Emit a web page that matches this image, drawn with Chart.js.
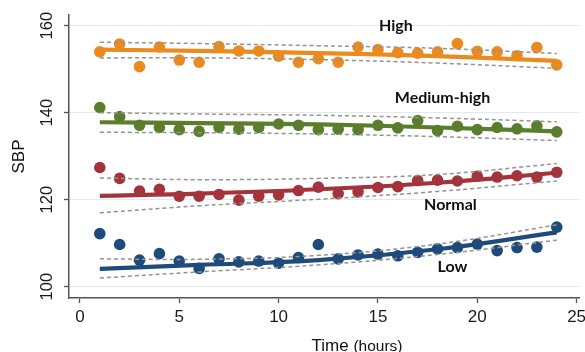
<!DOCTYPE html>
<html><head><meta charset="utf-8">
<script src="https://cdn.jsdelivr.net/npm/chart.js@4"></script>
<style>html,body{margin:0;padding:0;background:#fff;}#wrap{width:585px;height:352px;position:relative;}</style>
</head><body><div id="wrap"><canvas id="c"></canvas></div>
<script>
// ---- data ----
const hours = [1,2,3,4,5,6,7,8,9,10,11,12,13,14,15,16,17,18,19,20,21,22,23,24];
const groupNames = ["High", "Medium-high", "Normal", "Low"];

const high       = [154.0,155.8,150.6,155.1,152.1,151.6,155.2,154.2,154.2,153.0,151.6,152.4,151.6,155.1,154.5,153.8,153.7,154.0,155.9,154.1,154.0,153.1,155.0,151.0];
const mediumHigh = [141.2,139.1,137.1,136.6,136.1,135.7,136.6,136.2,136.6,137.4,137.1,136.1,136.2,136.1,137.1,136.5,138.2,135.9,136.9,136.1,136.6,136.3,137.0,135.6];
const normal     = [127.4,124.9,122.0,122.4,120.8,120.8,121.2,119.9,120.8,121.1,122.1,122.9,121.4,121.8,122.8,123.0,124.4,124.5,124.3,125.4,125.2,125.5,125.2,126.3];
const low        = [112.2,109.7,106.1,107.6,105.9,104.2,106.4,105.7,105.9,105.4,106.7,109.7,106.4,107.3,107.5,107.1,107.9,108.7,109.0,109.8,108.3,109.0,109.1,113.7];

// fitted curves and 95% CI, read at these hours
const fitHours = [1, 6, 12, 18, 24];
const highFit   = [154.5, 154.2, 153.7, 153.0, 151.9];
const highUpper = [156.2, 155.9, 155.4, 154.8, 153.6];
const highLower = [152.6, 152.6, 152.2, 151.4, 150.2];
const mhFit     = [137.8, 137.6, 137.3, 136.6, 135.7];
const mhUpper   = [140.0, 139.7, 139.4, 138.8, 137.9];
const mhLower   = [135.5, 135.4, 135.1, 134.5, 133.6];
const normFit   = [120.9, 121.4, 122.4, 123.9, 126.2];
const normUpper = [125.0, 124.6, 124.9, 125.8, 128.3];
const normLower = [117.0, 118.6, 120.1, 121.9, 124.3];
const lowFit    = [104.1, 105.0, 106.1, 108.6, 112.5];
const lowUpper  = [106.4, 106.3, 107.2, 109.8, 114.2];
const lowLower  = [102.0, 103.4, 105.0, 107.4, 110.7];

const xTicks = [0, 5, 10, 15, 20, 25];
const yTicks = [100, 120, 140, 160];

// ---- styling ----
const colors = ["#EA8A1F", "#5A7E2C", "#A3343C", "#1F4B7C"];
const pts = (xs, ys) => xs.map((x, i) => ({x, y: ys[i]}));

const groups = [
  {obs: high, fit: highFit, up: highUpper, lo: highLower},
  {obs: mediumHigh, fit: mhFit, up: mhUpper, lo: mhLower},
  {obs: normal, fit: normFit, up: normUpper, lo: normLower},
  {obs: low, fit: lowFit, up: lowUpper, lo: lowLower}
];

const datasets = [];
groups.forEach((g, i) => {
  datasets.push({label: groupNames[i], data: pts(hours, g.obs), showLine: false,
    pointRadius: 5.8, pointBackgroundColor: colors[i], pointBorderWidth: 0, order: 3});
  datasets.push({label: groupNames[i] + " fit", data: pts(fitHours, g.fit), showLine: true,
    borderColor: colors[i], borderWidth: 4.2, pointRadius: 0, tension: 0.4, order: 2});
  [g.up, g.lo].forEach(b => datasets.push({label: groupNames[i] + " CI", data: pts(fitHours, b), showLine: true,
    borderColor: "#939393", borderWidth: 1.5, borderDash: [4, 3], pointRadius: 0, tension: 0.4, order: 1}));
});

const labelPos = [
  {x: 15.9, y: 160.0},
  {x: 18.25, y: 143.4},
  {x: 18.65, y: 118.85},
  {x: 18.75, y: 104.6}
];

const overlay = {
  id: "overlay",
  afterDraw(chart) {
    const ctx = chart.ctx, xs = chart.scales.x, ys = chart.scales.y;
    ctx.save();
    ctx.fillStyle = "#111";
    ctx.textAlign = "center";
    ctx.textBaseline = "middle";
    ctx.font = "bold 16px Lato, 'Open Sans', sans-serif";
    groupNames.forEach((n, i) => {
      ctx.fillText(n, xs.getPixelForValue(labelPos[i].x), ys.getPixelForValue(labelPos[i].y));
    });
    // x axis title
    ctx.textBaseline = "alphabetic";
    ctx.textAlign = "left";
    const f1 = "17px 'Liberation Sans', Arial, sans-serif";
    const f2 = "15.5px 'Liberation Sans', Arial, sans-serif";
    ctx.font = f1; const w1 = ctx.measureText("Time ").width;
    ctx.font = f2; const w2 = ctx.measureText("(hours)").width;
    const cx = 357, start = cx - (w1 + w2) / 2;
    ctx.font = f1; ctx.fillText("Time ", start, 351);
    ctx.font = f2; ctx.fillText("(hours)", start + w1, 351);
    ctx.restore();
  }
};

new Chart(document.getElementById("c"), {
  type: "scatter",
  data: {datasets},
  plugins: [overlay],
  options: {
    responsive: true, maintainAspectRatio: false, animation: false, devicePixelRatio: 1,
    layout: {padding: {top: 15, right: 5, left: 0, bottom: 0}},
    plugins: {legend: {display: false}, tooltip: {enabled: false}},
    scales: {
      x: {
        type: "linear", position: "bottom", min: -0.55, max: 25.13,
        afterBuildTicks: s => { s.ticks = xTicks.map(v => ({value: v})); },
        ticks: {includeBounds: false, color: "#1a1a1a", padding: 4,
          font: {size: 17, family: "'Liberation Sans', Arial, sans-serif"}},
        grid: {drawOnChartArea: false, tickLength: 5, tickColor: "#555", tickWidth: 1.3},
        border: {color: "#555", width: 1.5},
        afterFit: s => { s.height = 54; s.paddingLeft = 0; s.paddingRight = 0; }
      },
      y: {
        type: "linear", min: 97.4, max: 162.46,
        afterBuildTicks: s => { s.ticks = yTicks.map(v => ({value: v})); },
        ticks: {includeBounds: false, color: "#1a1a1a", minRotation: 90, maxRotation: 90, crossAlign: "center", padding: 3,
          font: {size: 16.5, family: "'Liberation Sans', Arial, sans-serif"}},
        grid: {color: "#e3eaee", lineWidth: 1, tickLength: 5, tickColor: "#555", tickWidth: 1.3},
        border: {color: "#555", width: 1.5},
        title: {display: true, text: "SBP", color: "#111", padding: {top: 9, bottom: 0},
          font: {size: 17, family: "'Liberation Sans', Arial, sans-serif"}},
        afterFit: s => { s.width = 69; s.paddingTop = 0; s.paddingBottom = 0; }
      }
    }
  }
});
</script></body></html>
